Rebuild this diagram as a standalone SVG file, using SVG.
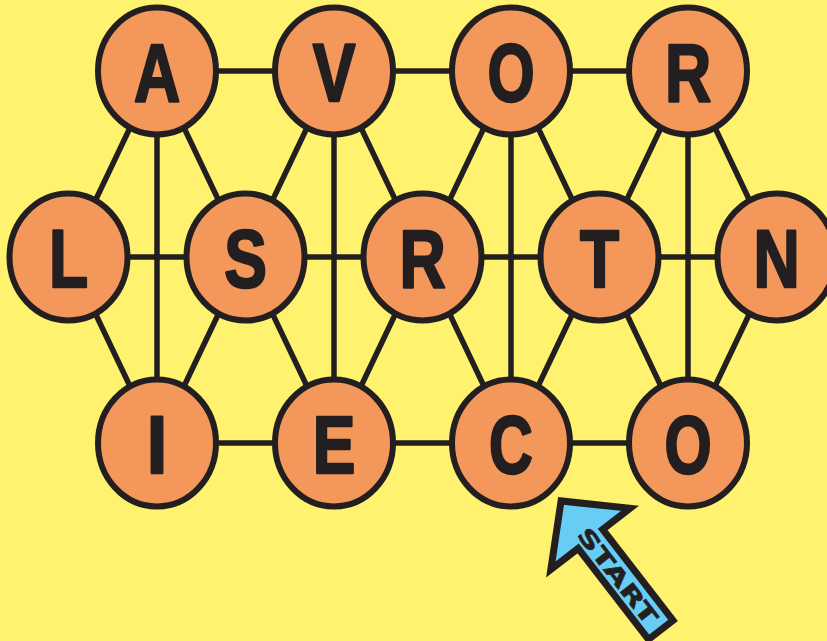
<svg xmlns="http://www.w3.org/2000/svg" width="827" height="641" viewBox="0 0 827 641">
<style>
.bg{fill:#fef26f}
.edge{stroke:#231f20;stroke-width:5.5;fill:none}
.node ellipse{fill:#f3975b;stroke:#231f20;stroke-width:6}
.node text{font-family:"Liberation Sans",Arial,sans-serif;font-weight:bold;font-size:82px;fill:#231f20;stroke:#231f20;stroke-width:2.5;stroke-linejoin:round;text-anchor:middle}
.arrow polygon{fill:#67cdf5;stroke:#231f20;stroke-width:7;stroke-linejoin:miter;stroke-miterlimit:10}
.arrow text{font-family:"DejaVu Sans",sans-serif;font-weight:bold;font-size:22px;fill:#231f20;stroke:#231f20;stroke-width:0.6;text-anchor:middle}
</style>
<rect class="bg" x="0" y="0" width="827" height="641"/>
<g id="connectors">
<line class="edge" x1="157" y1="71" x2="334" y2="71"/>
<line class="edge" x1="334" y1="71" x2="511" y2="71"/>
<line class="edge" x1="511" y1="71" x2="688" y2="71"/>
<line class="edge" x1="68.5" y1="257" x2="245.5" y2="257"/>
<line class="edge" x1="245.5" y1="257" x2="422.5" y2="257"/>
<line class="edge" x1="422.5" y1="257" x2="599.5" y2="257"/>
<line class="edge" x1="599.5" y1="257" x2="776.5" y2="257"/>
<line class="edge" x1="157" y1="443" x2="334" y2="443"/>
<line class="edge" x1="334" y1="443" x2="511" y2="443"/>
<line class="edge" x1="511" y1="443" x2="688" y2="443"/>
<line class="edge" x1="157" y1="71" x2="157" y2="443"/>
<line class="edge" x1="334" y1="71" x2="334" y2="443"/>
<line class="edge" x1="511" y1="71" x2="511" y2="443"/>
<line class="edge" x1="688" y1="71" x2="688" y2="443"/>
<line class="edge" x1="157" y1="71" x2="68.5" y2="257"/>
<line class="edge" x1="157" y1="71" x2="245.5" y2="257"/>
<line class="edge" x1="334" y1="71" x2="245.5" y2="257"/>
<line class="edge" x1="334" y1="71" x2="422.5" y2="257"/>
<line class="edge" x1="511" y1="71" x2="422.5" y2="257"/>
<line class="edge" x1="511" y1="71" x2="599.5" y2="257"/>
<line class="edge" x1="688" y1="71" x2="599.5" y2="257"/>
<line class="edge" x1="688" y1="71" x2="776.5" y2="257"/>
<line class="edge" x1="68.5" y1="257" x2="157" y2="443"/>
<line class="edge" x1="245.5" y1="257" x2="157" y2="443"/>
<line class="edge" x1="245.5" y1="257" x2="334" y2="443"/>
<line class="edge" x1="422.5" y1="257" x2="334" y2="443"/>
<line class="edge" x1="422.5" y1="257" x2="511" y2="443"/>
<line class="edge" x1="599.5" y1="257" x2="511" y2="443"/>
<line class="edge" x1="599.5" y1="257" x2="688" y2="443"/>
<line class="edge" x1="776.5" y1="257" x2="688" y2="443"/>
</g>
<g id="node-A" class="node"><ellipse cx="157" cy="71" rx="59" ry="63.5"/><text transform="translate(157,100.5) scale(0.78,1)">A</text></g>
<g id="node-V" class="node"><ellipse cx="334" cy="71" rx="59" ry="63.5"/><text transform="translate(334,100.5) scale(0.78,1)">V</text></g>
<g id="node-O1" class="node"><ellipse cx="511" cy="71" rx="59" ry="63.5"/><text transform="translate(511,100.5) scale(0.74,1)">O</text></g>
<g id="node-R1" class="node"><ellipse cx="688" cy="71" rx="59" ry="63.5"/><text transform="translate(688,100.5) scale(0.78,1)">R</text></g>
<g id="node-L" class="node"><ellipse cx="68.5" cy="257" rx="59" ry="63.5"/><text transform="translate(68.5,286.5) scale(0.78,1)">L</text></g>
<g id="node-S" class="node"><ellipse cx="245.5" cy="257" rx="59" ry="63.5"/><text transform="translate(245.5,286.5) scale(0.78,1)">S</text></g>
<g id="node-R2" class="node"><ellipse cx="422.5" cy="257" rx="59" ry="63.5"/><text transform="translate(422.5,286.5) scale(0.78,1)">R</text></g>
<g id="node-T" class="node"><ellipse cx="599.5" cy="257" rx="59" ry="63.5"/><text transform="translate(599.5,286.5) scale(0.78,1)">T</text></g>
<g id="node-N" class="node"><ellipse cx="776.5" cy="257" rx="59" ry="63.5"/><text transform="translate(776.5,286.5) scale(0.78,1)">N</text></g>
<g id="node-I" class="node"><ellipse cx="157" cy="443" rx="59" ry="63.5"/><text transform="translate(157,472.5) scale(0.9,1)">I</text></g>
<g id="node-E" class="node"><ellipse cx="334" cy="443" rx="59" ry="63.5"/><text transform="translate(334,472.5) scale(0.78,1)">E</text></g>
<g id="node-C" class="node"><ellipse cx="511" cy="443" rx="59" ry="63.5"/><text transform="translate(511,472.5) scale(0.74,1)">C</text></g>
<g id="node-O2" class="node"><ellipse cx="688" cy="443" rx="59" ry="63.5"/><text transform="translate(688,472.5) scale(0.74,1)">O</text></g>
<g id="start-arrow" class="arrow" transform="translate(558,497) rotate(-37.7)">
<polygon points="0,5 -50,53 -15.5,53 -15.5,168 15.5,168 15.5,53 50,53"/>
<text transform="translate(-1,99) rotate(90)" y="8" textLength="116" lengthAdjust="spacingAndGlyphs">START</text>
</g>
</svg>
